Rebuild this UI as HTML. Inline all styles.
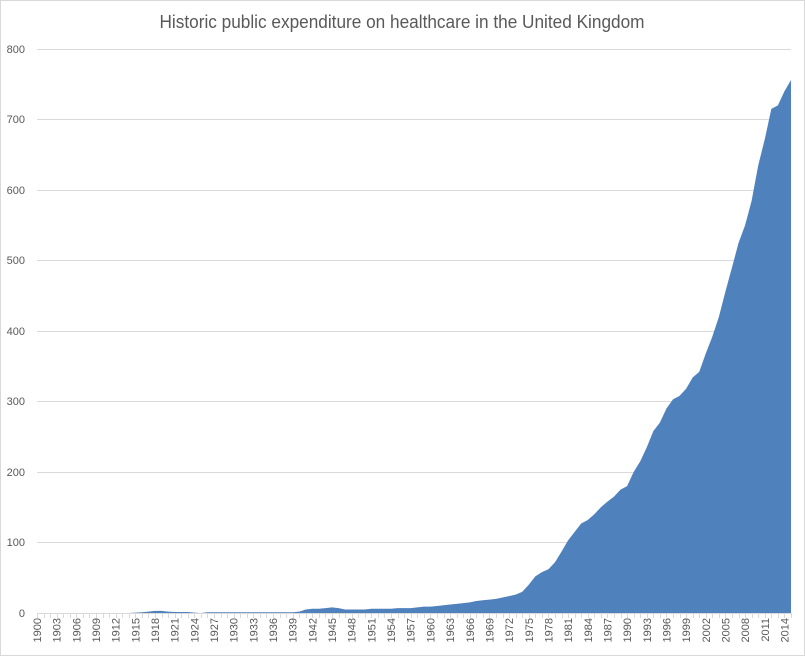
<!DOCTYPE html>
<html><head><meta charset="utf-8"><style>
html,body{margin:0;padding:0;background:#fff;}
svg{display:block;font-family:"Liberation Sans",sans-serif;}
</style></head><body>
<svg width="805" height="656" viewBox="0 0 805 656">
<rect x="0.5" y="0.5" width="804" height="655" fill="#fff" stroke="#d9d9d9"/>
<text x="402" y="28" text-anchor="middle" font-size="18" fill="#595959" textLength="485" lengthAdjust="spacingAndGlyphs">Historic public expenditure on healthcare in the United Kingdom</text>
<g stroke="#d9d9d9" stroke-width="1">
<line x1="37" x2="791" y1="49.5" y2="49.5"/>
<line x1="37" x2="791" y1="119.5" y2="119.5"/>
<line x1="37" x2="791" y1="190.5" y2="190.5"/>
<line x1="37" x2="791" y1="260.5" y2="260.5"/>
<line x1="37" x2="791" y1="331.5" y2="331.5"/>
<line x1="37" x2="791" y1="401.5" y2="401.5"/>
<line x1="37" x2="791" y1="472.5" y2="472.5"/>
<line x1="37" x2="791" y1="542.5" y2="542.5"/>
</g>
<g font-size="11" fill="#595959" text-anchor="end">
<text x="25" y="53">800</text><text x="25" y="123">700</text><text x="25" y="194">600</text><text x="25" y="264">500</text><text x="25" y="335">400</text><text x="25" y="405">300</text><text x="25" y="476">200</text><text x="25" y="546">100</text><text x="25" y="617">0</text>
</g>
<path id="area" fill="#4f81bd" d=""/>
<g id="ticks" stroke="#d9d9d9"></g>
<line x1="37" x2="791" y1="613.5" y2="613.5" stroke="#d9d9d9"/>
<g font-size="11" fill="#595959" text-anchor="end">
<text transform="translate(41,618) rotate(-90)">1900</text>
<text transform="translate(60.7,618) rotate(-90)">1903</text>
<text transform="translate(80.3,618) rotate(-90)">1906</text>
<text transform="translate(100,618) rotate(-90)">1909</text>
<text transform="translate(119.7,618) rotate(-90)">1912</text>
<text transform="translate(139.4,618) rotate(-90)">1915</text>
<text transform="translate(159,618) rotate(-90)">1918</text>
<text transform="translate(178.7,618) rotate(-90)">1921</text>
<text transform="translate(198.4,618) rotate(-90)">1924</text>
<text transform="translate(218,618) rotate(-90)">1927</text>
<text transform="translate(237.7,618) rotate(-90)">1930</text>
<text transform="translate(257.4,618) rotate(-90)">1933</text>
<text transform="translate(277,618) rotate(-90)">1936</text>
<text transform="translate(296.7,618) rotate(-90)">1939</text>
<text transform="translate(316.4,618) rotate(-90)">1942</text>
<text transform="translate(336.1,618) rotate(-90)">1945</text>
<text transform="translate(355.7,618) rotate(-90)">1948</text>
<text transform="translate(375.4,618) rotate(-90)">1951</text>
<text transform="translate(395.1,618) rotate(-90)">1954</text>
<text transform="translate(414.7,618) rotate(-90)">1957</text>
<text transform="translate(434.4,618) rotate(-90)">1960</text>
<text transform="translate(454.1,618) rotate(-90)">1963</text>
<text transform="translate(473.8,618) rotate(-90)">1966</text>
<text transform="translate(493.4,618) rotate(-90)">1969</text>
<text transform="translate(513.1,618) rotate(-90)">1972</text>
<text transform="translate(532.8,618) rotate(-90)">1975</text>
<text transform="translate(552.4,618) rotate(-90)">1978</text>
<text transform="translate(572.1,618) rotate(-90)">1981</text>
<text transform="translate(591.8,618) rotate(-90)">1984</text>
<text transform="translate(611.5,618) rotate(-90)">1987</text>
<text transform="translate(631.1,618) rotate(-90)">1990</text>
<text transform="translate(650.8,618) rotate(-90)">1993</text>
<text transform="translate(670.5,618) rotate(-90)">1996</text>
<text transform="translate(690.1,618) rotate(-90)">1999</text>
<text transform="translate(709.8,618) rotate(-90)">2002</text>
<text transform="translate(729.5,618) rotate(-90)">2005</text>
<text transform="translate(749.2,618) rotate(-90)">2008</text>
<text transform="translate(768.8,618) rotate(-90)">2011</text>
<text transform="translate(788.5,618) rotate(-90)">2014</text>
</g>
</svg>
<script>
var v=[0,0,0,0,0,0,0,0,0,0,0,0,0,0,0,
0.5,1,2,3,3,2,1.5,1.5,1.5,0.5,0,1,1,1,1,1,1,1,1,1,1,1,1,1,1,
2,5,6,6,7,8,7,5,5,5,5,6,6,6,6,7,7,7,8,9,
9,10,11,12,13,14,15,17,18,19,20,22,24,26,30,40,52,58,62,72,
87,103,115,127,132,140,150,158,165,175,180,200,215,235,258,270,290,303,308,318,
334,342,368,392,420,456,490,525,550,585,635,672,715,720,740,756];
var st=754/115,d="M37,613";
for(var i=0;i<v.length;i++){d+=" L"+(37+i*st).toFixed(2)+","+(613-v[i]*0.705).toFixed(2);}
d+=" L"+(37+(v.length-1)*st).toFixed(2)+",613 Z";
document.getElementById("area").setAttribute("d",d);
var t="";for(var i=0;i<=115;i++){var x=Math.round(37+i*st)+0.5;t+='<line x1="'+x+'" x2="'+x+'" y1="613" y2="618"/>';}
document.getElementById("ticks").innerHTML=t;
</script>
</body></html>
